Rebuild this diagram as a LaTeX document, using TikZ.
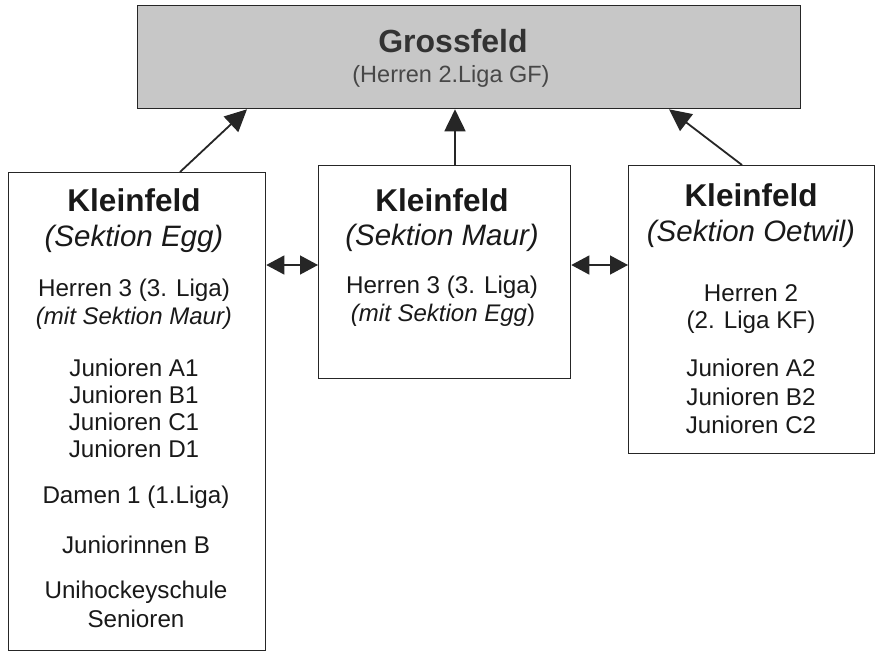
\documentclass[tikz,border=0pt]{standalone}
\usepackage{fontspec}
\setmainfont{Liberation Sans}
\usetikzlibrary{arrows.meta}
\begin{document}
\begin{tikzpicture}[x=1pt,y=-1pt,
  box/.style={draw=black!85,line width=1.3pt,inner sep=0pt,anchor=north west},
  arr/.style={line width=1.8pt,draw=black!85,-{Triangle[length=22pt,width=21pt]}},
  darr/.style={line width=1.3pt,draw=black!85,{Triangle[length=18pt,width=19pt]}-{Triangle[length=18pt,width=19pt]}},
  txt/.style={inner sep=0pt,text=black!90,font=\fontsize{24.2}{27}\selectfont},
  tit/.style={inner sep=0pt,text=black!90,font=\fontsize{31.5}{34}\selectfont\bfseries},
  sub/.style={inner sep=0pt,text=black!90,font=\fontsize{29.5}{32}\selectfont\itshape},
  ital/.style={inner sep=0pt,text=black!90,font=\fontsize{24}{27}\selectfont\itshape}]
\useasboundingbox[fill=white] (0,0) rectangle (880,654);
% boxes
\node[box,fill=black!22,minimum width=663pt,minimum height=103pt] (gf) at (137,5) {};
\node[box,minimum width=257pt,minimum height=478pt] (egg) at (8,172) {};
\node[box,minimum width=252pt,minimum height=213pt] (maur) at (318,165) {};
\node[box,minimum width=246pt,minimum height=288pt] (oet) at (628,165) {};
% Grossfeld text
\node[inner sep=0pt,text=black!80,font=\fontsize{32}{34}\selectfont\bfseries] (gft) at (453,41) {Grossfeld};
\node[inner sep=0pt,text=black!72,font=\fontsize{23.5}{26}\selectfont] (gfs) at (451,76) {(Herren 2.Liga GF)};
% left box text
\node[tit] (e1) at (134,200) {Kleinfeld};
\node[sub] (e2) at (134,239) {(Sektion Egg)};
\node[txt] (e3) at (134,290) {Herren 3 (3. Liga)};
\node[ital] (e4) at (134,318) {(mit Sektion Maur)};
\node[txt] (e5) at (134,368) {Junioren A1};
\node[txt] (e6) at (134,395) {Junioren B1};
\node[txt] (e7) at (134,422) {Junioren C1};
\node[txt] (e8) at (134,449) {Junioren D1};
\node[txt] (e9) at (136,497) {Damen 1 (1.Liga)};
\node[txt] (e10) at (136,545) {Juniorinnen B};
\node[txt] (e11) at (136,592) {Unihockeyschule};
\node[txt] (e12) at (136,619) {Senioren};
% middle box text
\node[tit] (m1) at (442,200) {Kleinfeld};
\node[sub] (m2) at (442,238) {(Sektion Maur)};
\node[txt] (m3) at (442,287) {Herren 3 (3. Liga)};
\node[ital] (m4) at (443,315) {(mit Sektion Egg\upshape)};
% right box text
\node[tit] (o1) at (751,195) {Kleinfeld};
\node[sub] (o2) at (751,234) {(Sektion Oetwil)};
\node[txt] (o3) at (751,293) {Herren 2};
\node[txt] (o4) at (751,322) {(2. Liga KF)};
\node[txt] (o5) at (751,368) {Junioren A2};
\node[txt] (o6) at (751,397) {Junioren B2};
\node[txt] (o7) at (751,425) {Junioren C2};
% connectors
\coordinate (xa) at (180,0);
\coordinate (xb) at (247,0);
\coordinate (xc) at (455,0);
\coordinate (xd) at (742,0);
\coordinate (xe) at (669,0);
\coordinate (yh) at (0,265);
\draw[arr] (egg.north -| xa) -- (gf.south -| xb);
\draw[arr] (maur.north -| xc) -- (gf.south -| xc);
\draw[arr] (oet.north -| xd) -- (gf.south -| xe);
\draw[darr] (egg.east |- yh) -- (maur.west |- yh);
\draw[darr] (maur.east |- yh) -- (oet.west |- yh);
\end{tikzpicture}
\end{document}
